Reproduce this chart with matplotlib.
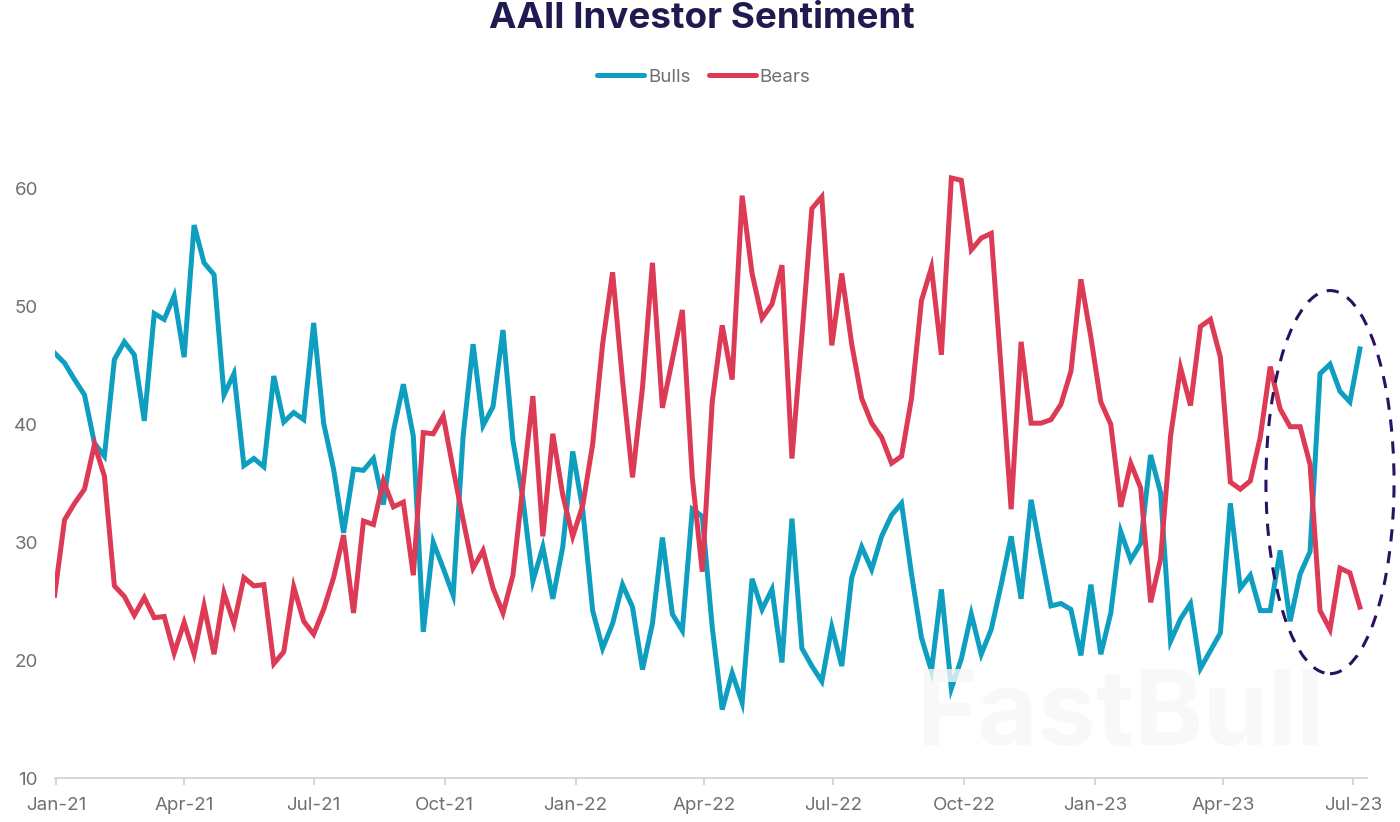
import numpy as np
import pandas as pd
import matplotlib
matplotlib.use("Agg")
import matplotlib.pyplot as plt
import matplotlib.dates as mdates
from matplotlib.patches import Ellipse

# --- Data (weekly survey) ---
dates = pd.date_range("2020-12-31", periods=132, freq="7D")
bulls = [46.05, 45.2, 43.8, 42.5, 38.4, 37.3, 45.5, 47.0, 45.9, 40.3, 49.4, 48.9,
         50.9, 45.7, 56.9, 53.7, 52.7, 42.5, 44.3, 36.5, 37.1, 36.4, 44.1, 40.2,
         41.0, 40.4, 48.6, 40.1, 36.2, 30.8, 36.2, 36.1, 37.1, 33.2, 39.4, 43.4,
         39.0, 22.4, 30.0, 27.8, 25.5, 39.0, 46.8, 39.9, 41.5, 48.0, 38.6, 33.7,
         26.7, 29.6, 25.2, 29.6, 37.7, 32.8, 24.2, 21.0, 23.1, 26.4, 24.5, 19.2,
         23.1, 30.4, 23.9, 22.5, 32.8, 32.2, 22.8, 15.8, 18.9, 16.4, 26.9, 24.3,
         26.0, 19.8, 32.0, 21.0, 19.5, 18.2, 22.8, 19.5, 27.0, 29.6, 27.7, 30.5,
         32.3, 33.3, 27.3, 21.9, 19.1, 26.0, 17.6, 20.1, 23.9, 20.5, 22.6, 26.4,
         30.5, 25.2, 33.6, 29.0, 24.6, 24.8, 24.3, 20.4, 26.4, 20.5, 24.0, 30.9,
         28.5, 29.9, 37.4, 34.2, 21.6, 23.5, 24.8, 19.3, 20.8, 22.3, 33.3, 26.1,
         27.2, 24.2, 24.2, 29.3, 23.3, 27.3, 29.2, 44.3, 45.1, 42.8, 41.9, 46.4]
bears = [25.5, 31.9, 33.3, 34.5, 38.3, 35.6, 26.3, 25.4, 23.8, 25.3, 23.6, 23.7,
         20.6, 23.2, 20.5, 24.6, 20.5, 25.7, 23.1, 27.0, 26.3, 26.4, 19.7, 20.7,
         26.2, 23.3, 22.2, 24.3, 27.0, 30.6, 24.0, 31.8, 31.5, 35.2, 33.0, 33.4,
         27.2, 39.3, 39.2, 40.7, 36.2, 31.9, 27.8, 29.3, 26.1, 24.0, 27.2, 34.8,
         42.4, 30.5, 39.2, 34.0, 30.5, 33.1, 38.3, 46.8, 52.9, 43.7, 35.5, 43.1,
         53.7, 41.4, 45.5, 49.7, 35.5, 27.5, 41.9, 48.4, 43.8, 59.4, 52.8, 49.0,
         50.2, 53.5, 37.1, 47.5, 58.3, 59.3, 46.7, 52.8, 46.8, 42.2, 40.1, 38.9,
         36.7, 37.3, 42.2, 50.5, 53.3, 45.9, 60.9, 60.7, 54.8, 55.8, 56.2, 44.6,
         32.8, 47.0, 40.1, 40.1, 40.4, 41.7, 44.5, 52.3, 47.4, 41.9, 40.0, 33.0,
         36.7, 34.6, 24.9, 28.6, 39.0, 44.8, 41.6, 48.3, 48.9, 45.7, 35.1, 34.5,
         35.2, 38.9, 44.9, 41.3, 39.8, 39.8, 36.6, 24.2, 22.6, 27.8, 27.4, 24.5]
y_ticks = [10, 20, 30, 40, 50, 60]
x_ticks = pd.date_range("2021-01-01", "2023-07-01", freq="QS")

BLUE = "#0E9EC0"
RED = "#DC3A55"
NAVY = "#1F1A4F"
GREY = "#707070"
W, H = 1400, 822

plt.rcParams["font.family"] = ["Inter", "DejaVu Sans"]

fig = plt.figure(figsize=(W / 100, H / 100), dpi=100)
# axes box placed in pixels
left, right, bottom, top = 54.6, 1367, 778, 165
ax = fig.add_axes([left / W, 1 - bottom / H, (right - left) / W, (bottom - top) / H])

ax.plot(dates, bears, color=RED, lw=3.6, solid_joinstyle="miter", label="Bears", zorder=3)
ax.plot(dates, bulls, color=BLUE, lw=3.6, solid_joinstyle="miter", label="Bulls", zorder=2)

ax.set_xlim(dates[0], dates[0] + pd.Timedelta(days=922))
ax.set_ylim(10, 62)
ax.set_yticks(y_ticks)
ax.set_xticks(x_ticks)
ax.xaxis.set_major_formatter(mdates.DateFormatter("%b-%y"))
ax.tick_params(axis="y", length=0, pad=12, labelsize=13.5, labelcolor=GREY)
ax.tick_params(axis="x", length=5, width=1.2, color="#D0D0D0", pad=9, labelsize=13.5, labelcolor=GREY)
for s in ["top", "right", "left"]:
    ax.spines[s].set_visible(False)
ax.spines["bottom"].set_color("#D0D0D0")
ax.spines["bottom"].set_linewidth(1.2)

# faint watermark, under the ring but over the lines
ax.text(1120 / W, 1 - 717 / H, "FastBull", transform=fig.transFigure, ha="center", va="center",
        fontsize=75, fontweight="bold", color="#F7F7F7", alpha=0.8, zorder=3.5)

# dashed ring around the latest readings
ring = Ellipse((mdates.date2num(pd.Timestamp("2023-06-15")), 35.1), 90, 32.5, fill=False,
               edgecolor="#2A1162", lw=2.2, ls=(0, (4, 3.2)), clip_on=False, zorder=4)
ax.add_patch(ring)

fig.text(702 / W, 1 - 18 / H, "AAII Investor Sentiment", ha="center", va="center",
         fontsize=26.5, fontweight="bold", color=NAVY)

handles, labels = ax.get_legend_handles_labels()
leg = fig.legend(handles[::-1], labels[::-1], loc="center", bbox_to_anchor=(704 / W, 1 - 77 / H),
                 ncol=2, frameon=False, fontsize=13.5, labelcolor=GREY, handlelength=2.5,
                 handletextpad=0.2, columnspacing=1.0)
for line in leg.get_lines():
    line.set_linewidth(3.6)
    line.set_solid_capstyle("round")

fig.savefig("out.png", dpi=100)
